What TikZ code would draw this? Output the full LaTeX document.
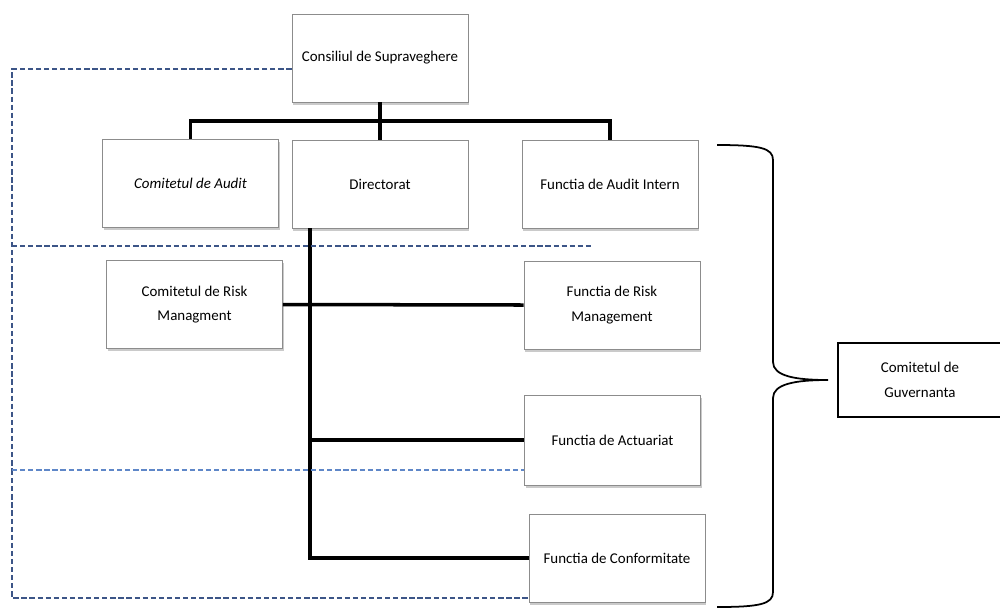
\documentclass[tikz,border=0pt]{standalone}
\usepackage{fontspec}
\setmainfont{Carlito}
\usetikzlibrary{shadows}

\begin{document}
\begin{tikzpicture}[x=0.02cm,y=-0.02cm,
    box/.style={draw=black!45,line width=.5pt,fill=white,align=center,
        minimum width=3.52cm,minimum height=1.76cm,inner sep=1pt,
        font=\fontsize{8.5}{14}\selectfont,
        drop shadow={shadow xshift=.6pt,shadow yshift=-1.6pt,opacity=.35,fill=black!60}},
    trunk/.style={line width=2pt,black},
    sup/.style={dashed,dash pattern=on 3pt off 1.6pt,line width=.6pt,color={rgb,255:red,60;green,85;blue,135}},
    suplight/.style={sup,color={rgb,255:red,95;green,135;blue,200}}]
    %\draw[help lines,step=50] (0,0) grid (1000,610);
    \useasboundingbox (0,0) rectangle (1000,610);
    \node[box] (cons) at(380,58) {Consiliul de Supraveghere};
    \node[box,font=\fontsize{8.5}{14}\selectfont\itshape] (audit) at(190.5,183.5) {Comitetul de Audit};
    \node[box] (dir) at(380,184) {Directorat};
    \node[box] (intern) at(610,184) {Functia de Audit Intern};
    \node[box] (crisk) at(194.5,304.5) {Comitetul de Risk\\Managment};
    \node[box] (frisk) at(612,305) {Functia de Risk\\Management};
    \node[box,minimum height=1.8cm] (act) at(612.5,440) {Functia de Actuariat};
    \node[box] (conf) at(617,558) {Functia de Conformitate};
    \node[draw,line width=.9pt,align=center,minimum width=3.28cm,minimum height=1.48cm,
        font=\fontsize{8.5}{14}\selectfont] (gov) at(920,380) {Comitetul de\\Guvernanta};
    % legaturi
    \draw[trunk] (cons.south) -- (cons.south |- 0,121) coordinate(bar);
    \draw[trunk] (audit.north) |- (bar) -| (intern.north);
    \draw[trunk] (bar) -- (dir.north);
    \coordinate (spine) at(310,228);
    \draw[trunk] (spine) |- (conf.west);
    \draw[trunk] (crisk.east) -- (frisk.west);
    \draw[trunk] (spine |- act.west) -- (act.west);
    % supraveghere
    \coordinate (lt) at(12,69);
    \coordinate (lb) at(12,598);
    \draw[sup] (cons.west |- lt) -- (lt) -- (12,470);
    \draw[sup] (12,470) -- (lb) -- (conf.west |- lb);
    \draw[sup] (12,246) -- (592,246);
    \draw[suplight] (12,470) -- (act.west |- 0,470);
    % acolada
    \coordinate (tip) at(828,380);
    \draw[line width=1pt] (717,145) .. controls (760,145) and (773,148) .. (773,160)
        -- (773,362) .. controls (773,376) and (795,380) .. (tip)
        .. controls (795,380) and (773,384) .. (773,398)
        -- (773,592) .. controls (773,604) and (760,607) .. (717,607);
\end{tikzpicture}
\end{document}
